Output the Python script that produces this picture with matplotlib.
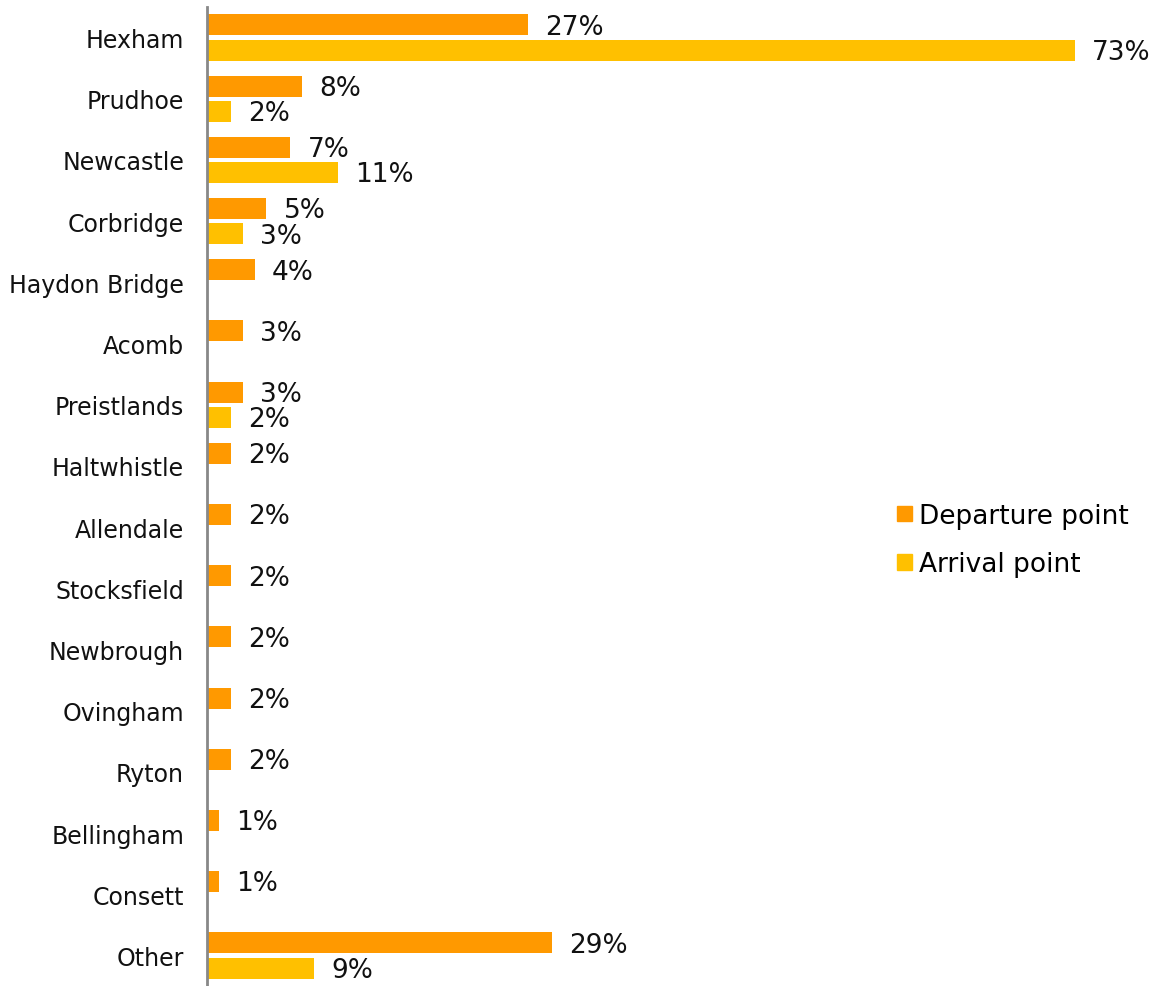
import numpy as np
import matplotlib.pyplot as plt
from matplotlib.patches import Patch

# Where journeys start and end, share of respondents (%)
towns = ['Hexham', 'Prudhoe', 'Newcastle', 'Corbridge', 'Haydon Bridge', 'Acomb',
         'Preistlands', 'Haltwhistle', 'Allendale', 'Stocksfield', 'Newbrough',
         'Ovingham', 'Ryton', 'Bellingham', 'Consett', 'Other']
departure = [27, 8, 7, 5, 4, 3, 3, 2, 2, 2, 2, 2, 2, 1, 1, 29]
arrival = [73, 2, 11, 3, None, None, 2, None, None, None, None, None, None, None, None, 9]

DEP_COLOR = '#FF9900'
ARR_COLOR = '#FFC000'
LABEL_FONT = 19
TICK_FONT = 17

plt.rcParams['font.family'] = ['DejaVu Sans']

W, H = 1158, 987
fig = plt.figure(figsize=(W / 100, H / 100), dpi=100)
left = 207 / W
ax = fig.add_axes([left, 0.0, 1 - left, 1 - 8 / H])

y = np.arange(len(towns))
bar_h = 0.343
off = 0.206

ax.barh(y - off, departure, height=bar_h, color=DEP_COLOR)
arr_y = [yy + off for yy, v in zip(y, arrival) if v is not None]
arr_v = [v for v in arrival if v is not None]
ax.barh(arr_y, arr_v, height=bar_h, color=ARR_COLOR)

# value labels just past the end of each bar
for yy, v in zip(y - off, departure):
    ax.text(v + 1.45, yy + 0.03, f'{v}%', va='center', ha='left', fontsize=LABEL_FONT, color='#111111')
for yy, v in zip(arr_y, arr_v):
    ax.text(v + 1.45, yy + 0.03, f'{v}%', va='center', ha='left', fontsize=LABEL_FONT, color='#111111')

ax.set_xlim(0, 80)
ax.set_ylim(len(towns) - 0.5, -0.5)
ax.set_yticks(y)
ax.set_yticklabels(towns, fontsize=TICK_FONT, color='#111111')
ax.tick_params(axis='y', length=0, pad=16.5)
ax.set_xticks([])
for side in ['top', 'right', 'bottom']:
    ax.spines[side].set_visible(False)
ax.spines['left'].set_color('#888888')
ax.spines['left'].set_linewidth(2)

handles = [Patch(color=DEP_COLOR, label='Departure point'),
           Patch(color=ARR_COLOR, label='Arrival point')]
fig.legend(handles=handles, loc='center left', bbox_to_anchor=(897 / W, 1 - 541 / H),
           frameon=False, fontsize=LABEL_FONT, handlelength=0.55, handleheight=0.55,
           handletextpad=0.27, labelspacing=0.85, borderpad=0, borderaxespad=0)

fig.savefig('out.png', dpi=100)
